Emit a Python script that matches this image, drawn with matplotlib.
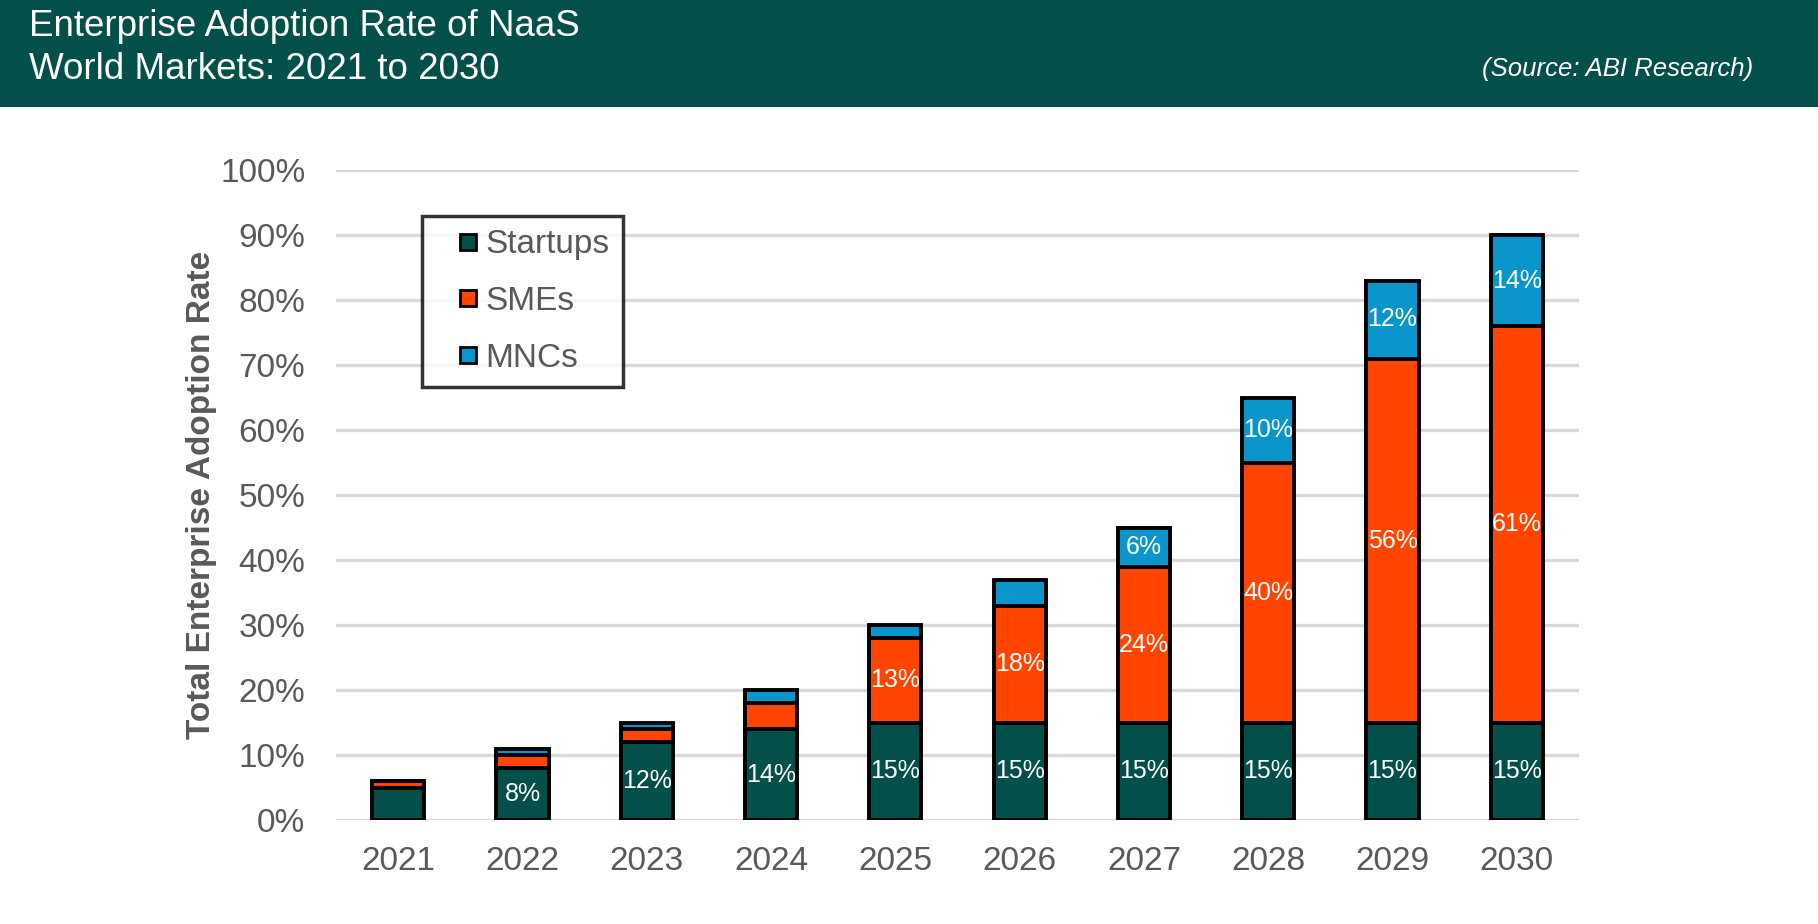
import matplotlib.pyplot as plt
import numpy as np
from matplotlib.patches import Rectangle
from matplotlib.lines import Line2D

plt.rcParams['font.family'] = ['Liberation Sans', 'DejaVu Sans']

# Data (percent)
years = ['2021', '2022', '2023', '2024', '2025', '2026', '2027', '2028', '2029', '2030']
startups = [5, 8, 12, 14, 15, 15, 15, 15, 15, 15]
smes = [1, 2, 2, 4, 13, 18, 24, 40, 56, 61]
mncs = [0, 1, 1, 2, 2, 4, 6, 10, 12, 14]

series = [('Startups', startups, '#03504A'),
          ('SMEs', smes, '#FF4500'),
          ('MNCs', mncs, '#0A96CA')]

GRAY = '#595959'
HEADER = '#03504A'
MIN_LABEL = 6  # smaller segments are not labelled

fig = plt.figure(figsize=(18.18, 9.24), dpi=100)

# header band
fig.patches.append(Rectangle((0, 1 - 107 / 924), 1, 107 / 924, transform=fig.transFigure,
                             facecolor=HEADER, edgecolor='none', zorder=0))
fig.text(29 / 1818, 1 - 36 / 924, 'Enterprise Adoption Rate of NaaS', color='white',
         fontsize=26.5, va='baseline', ha='left')
fig.text(29 / 1818, 1 - 79 / 924, 'World Markets: 2021 to 2030', color='white',
         fontsize=26.5, va='baseline', ha='left')
fig.text(1753 / 1818, 1 - 76 / 924, '(Source: ABI Research)', color='white',
         fontsize=18.5, style='italic', va='baseline', ha='right')

ax = fig.add_axes([336 / 1818, 1 - 820 / 924, 1243 / 1818, 650 / 924])

x = np.arange(len(years))
bottom = np.zeros(len(years))
handles = []
for name, vals, color in series:
    vals = np.array(vals, dtype=float)
    ax.bar(x, vals, width=0.42, bottom=bottom, color=color, edgecolor='black',
           linewidth=2.8, zorder=3)
    handles.append(Line2D([], [], linestyle='none', marker='s', markersize=12,
                          markerfacecolor=color, markeredgecolor='black',
                          markeredgewidth=2, label=name))
    for xi, b, v in zip(x, bottom, vals):
        if v >= MIN_LABEL:
            ax.text(xi, b + v / 2, f'{int(v)}%', color='white', fontsize=18,
                    ha='center', va='center', zorder=4)
    bottom += vals

ax.set_xlim(-0.5, len(years) - 0.5)
ax.set_ylim(0, 100)
ax.set_yticks(np.arange(0, 101, 10))
ax.set_yticklabels([f'{v}%' for v in range(0, 101, 10)])
ax.set_xticks(x)
ax.set_xticklabels(years)
ax.tick_params(axis='both', length=0, labelsize=24, labelcolor=GRAY)
ax.tick_params(axis='x', pad=19)
ax.tick_params(axis='y', pad=22)
ax.grid(axis='y', color='#D9D9D9', linewidth=2.4, zorder=0)
for s in ax.spines.values():
    s.set_visible(False)

ax.set_ylabel('Total Enterprise Adoption Rate', fontsize=24, fontweight='bold',
              color=GRAY, labelpad=2)

leg = ax.legend(handles=handles, loc='upper left', bbox_to_anchor=(86 / 1243, 1 - 46 / 650),
                borderaxespad=0, fontsize=24, frameon=True, fancybox=False,
                handlelength=1.97, handletextpad=-0.47,
                labelspacing=0.77, borderpad=0.4, labelcolor=GRAY)
leg.get_frame().set_edgecolor('black')
leg.get_frame().set_linewidth(2.5)
leg.set_zorder(5)

fig.savefig('out.png', dpi=100)
